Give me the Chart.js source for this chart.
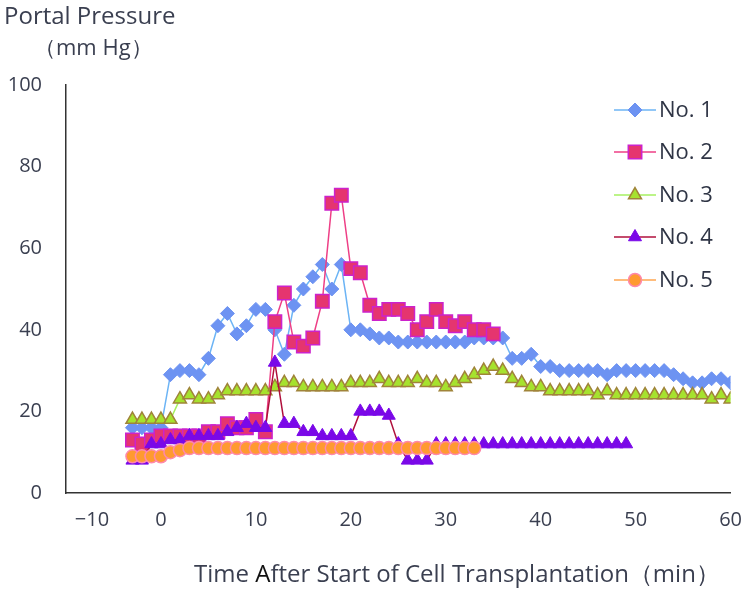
<!DOCTYPE html>
<html lang="en">
<head>
    <meta charset="UTF-8">
    <title>Portal Pressure</title>
    <script src="https://cdn.jsdelivr.net/npm/chart.js"></script>
    <style>
        body { margin: 0; background: #fff; }
        #wrap { position: relative; width: 750px; height: 590px; }
        .lbl {
            position: absolute;
            font-family: "Open Sans", "Noto Sans", sans-serif;
            font-size: 24px;
            color: #3a3f50;
            white-space: nowrap;
            line-height: 1;
        }
    </style>
</head>
<body>
    <div id="wrap">
        <canvas id="pp" width="750" height="590"></canvas>
        <div class="lbl" style="left:4px; top:3px;">Portal Pressure</div>
        <div class="lbl" style="left:34px; top:35px; font-size:22px;">（mm Hg）</div>
        <div class="lbl" style="left:194px; top:561px;">Time <span style="color:#111">A</span>fter Start of Cell Transplantation（min）</div>
    </div>

    <script>
        // minutes after start of transplantation
        var times = [-3, -2, -1, 0, 1, 2, 3, 4, 5, 6, 7, 8, 9, 10, 11, 12, 13, 14, 15, 16,
                     17, 18, 19, 20, 21, 22, 23, 24, 25, 26, 27, 28, 29, 30, 31, 32, 33, 34, 35, 36,
                     37, 38, 39, 40, 41, 42, 43, 44, 45, 46, 47, 48, 49, 50, 51, 52, 53, 54, 55, 56,
                     57, 58, 59, 60];

        var no1 = [16, 16, 16, 16, 29, 30, 30, 29, 33, 41, 44, 39, 41, 45, 45, 40, 34, 46, 50, 53,
                   56, 50, 56, 40, 40, 39, 38, 38, 37, 37, 37, 37, 37, 37, 37, 37, 38, 38, 38, 38,
                   33, 33, 34, 31, 31, 30, 30, 30, 30, 30, 29, 30, 30, 30, 30, 30, 30, 29, 28, 27,
                   27, 28, 28, 27];
        var no2 = [13, 12, 13, 14, 14, 14, 14, 14, 15, 15, 17, 16, 16, 18, 15, 42, 49, 37, 36, 38,
                   47, 71, 73, 55, 54, 46, 44, 45, 45, 44, 40, 42, 45, 42, 41, 42, 40, 40, 39];
        var no3 = [18, 18, 18, 18, 18, 23, 24, 23, 23, 24, 25, 25, 25, 25, 25, 26, 27, 27, 26, 26,
                   26, 26, 26, 27, 27, 27, 28, 27, 27, 27, 28, 27, 27, 26, 27, 28, 29, 30, 31, 30,
                   28, 27, 26, 26, 25, 25, 25, 25, 25, 24, 25, 24, 24, 24, 24, 24, 24, 24, 24, 24,
                   24, 23, 24, 23];
        var no4 = [8, 8, 12, 12, 13, 13, 14, 14, 14, 14, 15, 16, 17, 16, 16, 32, 17, 17, 15, 15,
                   14, 14, 14, 14, 20, 20, 20, 19, 12, 8, 8, 8, 12, 12, 12, 12, 12, 12, 12, 12,
                   12, 12, 12, 12, 12, 12, 12, 12, 12, 12, 12, 12, 12];
        var no5 = [9, 9, 9, 9, 10, 10.5, 11, 11, 11, 11, 11, 11, 11, 11, 11, 11, 11, 11, 11, 11,
                   11, 11, 11, 11, 11, 11, 11, 11, 11, 11, 11, 11, 11, 11, 11, 11, 11];

        var seriesNames = ['No. 1', 'No. 2', 'No. 3', 'No. 4', 'No. 5'];
        var xTicks = [-10, 0, 10, 20, 30, 40, 50, 60];
        var yTicks = [0, 20, 40, 60, 80, 100];

        function pts(vals) {
            return vals.map(function (v, i) { return { x: times[i], y: v }; });
        }

        var styles = [
            { line: '#6cb4f5', fill: '#6d93f2', edge: '#6d93f2', shape: 'rectRot', r: 7, bw: 1 },
            { line: '#ee3f86', fill: '#e5356f', edge: '#cc22cc', shape: 'rect', r: 9.5, bw: 1.5 },
            { line: '#a6f060', fill: '#a6e22e', edge: '#a0843a', shape: 'triangle', r: 7.5, bw: 1.5 },
            { line: '#b0103c', fill: '#7a08e8', edge: '#7a08e8', shape: 'triangle', r: 7.5, bw: 1 },
            { line: '#ffa650', fill: '#ff9a30', edge: '#ff88aa', shape: 'circle', r: 6.5, bw: 1.5 }
        ];
        var values = [no1, no2, no3, no4, no5];

        var datasets = values.map(function (vals, i) {
            var s = styles[i];
            return {
                label: seriesNames[i],
                data: pts(vals),
                borderColor: s.line,
                borderWidth: 1.5,
                pointStyle: s.shape,
                pointRadius: s.r,
                pointBackgroundColor: s.fill,
                pointBorderColor: s.edge,
                pointBorderWidth: s.bw,
                tension: 0,
                order: 5 - i
            };
        });

        // legend with line + marker, drawn on the canvas
        var lineLegend = {
            id: 'lineLegend',
            afterDraw: function (chart) {
                var ctx = chart.ctx;
                var ys = [110, 152, 195, 237, 280];
                ctx.save();
                for (var i = 0; i < styles.length; i++) {
                    var s = styles[i];
                    var y = ys[i];
                    ctx.beginPath();
                    ctx.moveTo(614, y);
                    ctx.lineTo(656, y);
                    ctx.lineWidth = 1.5;
                    ctx.strokeStyle = s.line;
                    ctx.stroke();
                    ctx.fillStyle = s.fill;
                    ctx.strokeStyle = s.edge;
                    ctx.lineWidth = s.bw;
                    Chart.helpers.drawPoint(ctx, { pointStyle: s.shape, radius: s.r, borderWidth: s.bw, rotation: 0 }, 635, y);
                    ctx.fillStyle = '#2f3545';
                    ctx.font = '22px "Open Sans", "Noto Sans", sans-serif';
                    ctx.textBaseline = 'middle';
                    ctx.fillText(seriesNames[i], 659, y + 1);
                }
                ctx.restore();
            }
        };

        var tickFont = { family: '"Open Sans", "Noto Sans", sans-serif', size: 20 };

        new Chart(document.getElementById('pp').getContext('2d'), {
            type: 'line',
            data: { datasets: datasets },
            options: {
                responsive: false,
                animation: false,
                layout: { padding: { top: 85, right: 18, left: 0, bottom: 0 } },
                plugins: { legend: { display: false }, tooltip: { enabled: false } },
                scales: {
                    x: {
                        type: 'linear',
                        min: -10,
                        max: 60,
                        afterBuildTicks: function (s) { s.ticks = xTicks.map(function (v) { return { value: v }; }); },
                        afterFit: function (s) { s.height = 97; },
                        grid: { display: false, drawTicks: true, tickLength: 7, tickColor: '#333' },
                        border: { color: '#333', width: 1.5 },
                        ticks: {
                            font: tickFont,
                            color: '#3a3f50',
                            padding: 8,
                            maxRotation: 0,
                            callback: function (v) { return v < 0 ? '          \u221210' : String(v); }
                        }
                    },
                    y: {
                        min: 0,
                        max: 100,
                        afterBuildTicks: function (s) { s.ticks = yTicks.map(function (v) { return { value: v }; }); },
                        afterFit: function (s) { s.width = 66; },
                        grid: { display: false, drawTicks: true, tickLength: 6, tickColor: '#333' },
                        border: { color: '#333', width: 1.5 },
                        ticks: { font: tickFont, color: '#3a3f50', padding: 18 }
                    }
                }
            },
            plugins: [lineLegend]
        });
    </script>
</body>
</html>
